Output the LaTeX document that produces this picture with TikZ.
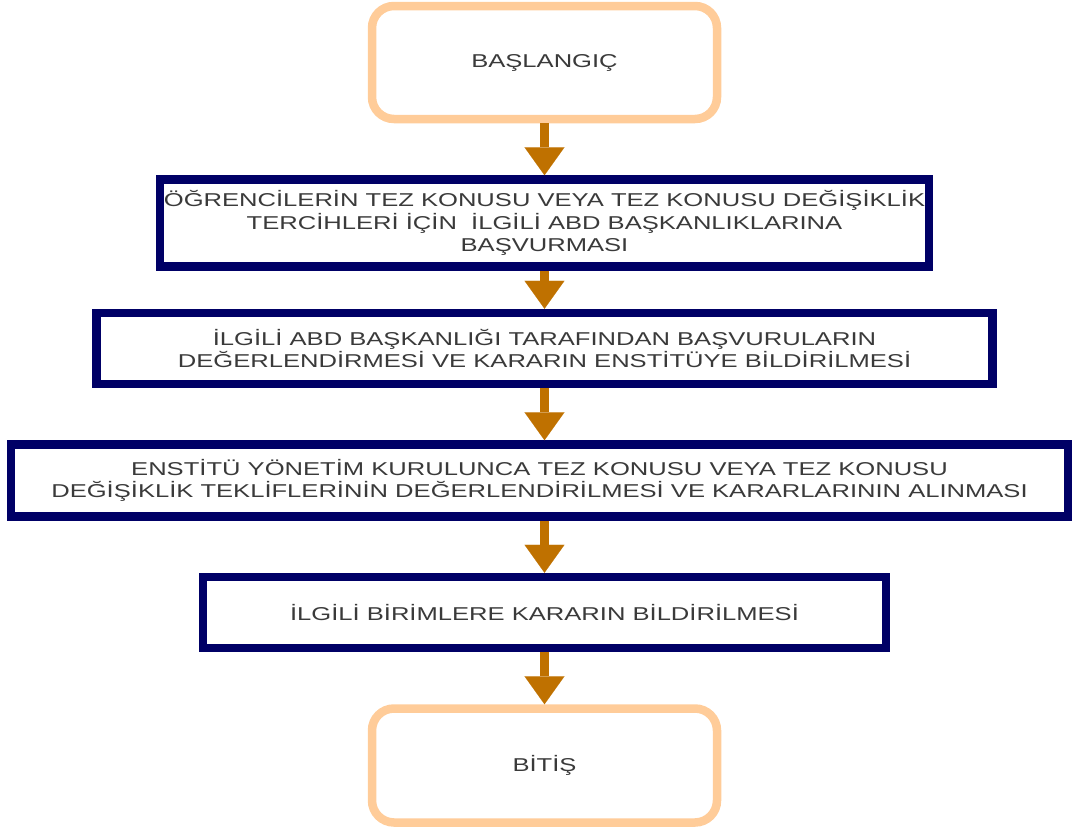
\documentclass[tikz,border=0pt]{standalone}
\usepackage{fontspec}
\newfontfamily\flowfont{Liberation Sans}[FakeStretch=1.375]
\usetikzlibrary{positioning,arrows.meta}
\definecolor{navyline}{RGB}{0,0,102}
\definecolor{peach}{RGB}{255,204,153}
\definecolor{arrowbrown}{RGB}{191,113,0}
\definecolor{labelgray}{RGB}{58,58,58}

\begin{document}
\begin{tikzpicture}[
        x=1pt, y=-1pt,
        node distance=52pt,
        terminal/.style={
            rectangle, rounded corners=22pt, draw=peach, line width=8.5pt, fill=white,
            minimum width=345pt, minimum height=113pt, align=center, inner sep=0pt,
            font={\flowfont\fontsize{18.6}{22.5}\selectfont}, text=labelgray
        },
        process/.style={
            rectangle, draw=navyline, line width=8.5pt, fill=white,
            minimum height=71pt, inner sep=0pt, align=center,
            font={\flowfont\fontsize{18.6}{22.5}\selectfont}, text=labelgray
        },
        arr/.style={-{Triangle[length=28pt, width=40pt, line width=0.1pt]}, line width=8.5pt, draw=arrowbrown}
    ]
    \useasboundingbox (0,0) rectangle (1074,830);

    % Start and steps
    \node[terminal] (start) at (544.5,62.5) {BAŞLANGIÇ};
    \node[process, below=of start, minimum width=769pt, minimum height=87pt] (s1)
        {ÖĞRENCİLERİN TEZ KONUSU VEYA TEZ KONUSU DEĞİŞİKLİK\\TERCİHLERİ İÇİN\ \ İLGİLİ ABD BAŞKANLIKLARINA\\BAŞVURMASI};
    \node[process, below=38pt of s1, minimum width=896pt] (s2)
        {İLGİLİ ABD BAŞKANLIĞI TARAFINDAN BAŞVURULARIN\\DEĞERLENDİRMESİ VE KARARIN ENSTİTÜYE BİLDİRİLMESİ};
    \node[process, below=of s2, xshift=-5pt, minimum width=1057pt, minimum height=72pt] (s3)
        {ENSTİTÜ YÖNETİM KURULUNCA TEZ KONUSU VEYA TEZ KONUSU\\DEĞİŞİKLİK TEKLİFLERİNİN DEĞERLENDİRİLMESİ VE KARARLARININ ALINMASI};
    \node[process, below=of s3, xshift=5pt, minimum width=683pt] (s4)
        {İLGİLİ BİRİMLERE KARARIN BİLDİRİLMESİ};
    \node[terminal, below=of s4, minimum height=114pt] (stop) {BİTİŞ};

    % Arrows
    \draw[arr] (start.south) -- (s1.north);
    \draw[arr] (s1.south) -- (s2.north);
    \draw[arr] (s2.south) -- (s2.south |- s3.north);
    \draw[arr] (s4.north |- s3.south) -- (s4.north);
    \draw[arr] (s4.south) -- (stop.north);
\end{tikzpicture}
\end{document}
